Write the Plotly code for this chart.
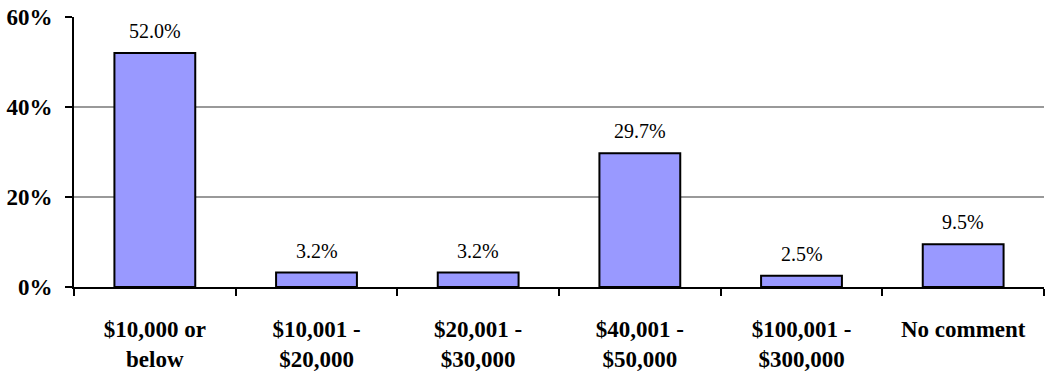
import plotly.graph_objects as go

# Income bands and share of respondents (%)
categories = ["$10,000 or<br>below", "$10,001 -<br>$20,000", "$20,001 -<br>$30,000",
              "$40,001 -<br>$50,000", "$100,001 -<br>$300,000", "No comment"]
shares = [52.0, 3.2, 3.2, 29.7, 2.5, 9.5]
y_ticks = [0, 20, 40, 60]
y_tick_labels = ["0%", "20%", "40%", "60%"]

serif = "Liberation Serif"

fig = go.Figure(go.Bar(
    x=categories,
    y=shares,
    marker=dict(color="#9999FF", line=dict(color="black", width=2)),
    hoverinfo="skip",
))

for cat, val in zip(categories, shares):
    fig.add_annotation(
        x=cat, y=val, text=f"{val:.1f}%", showarrow=False,
        yanchor="bottom", yshift=9,
        font=dict(family=serif, size=20, color="black"),
    )

fig.update_layout(
    width=1045, height=372,
    margin=dict(l=74, r=1, t=17, b=85),
    paper_bgcolor="white", plot_bgcolor="white",
    bargap=0.5,
    showlegend=False,
)

fig.update_xaxes(
    type="category",
    showline=True, linecolor="black", linewidth=2,
    ticks="outside", tickson="boundaries", ticklen=7, tickwidth=2, tickcolor="black",
    tickfont=dict(family=serif, size=23, color="black", weight="bold"),
    showgrid=False,
    ticklabelstandoff=20,
    automargin=False,
)

fig.update_yaxes(
    range=[0, 60],
    tickvals=y_ticks, ticktext=y_tick_labels,
    showline=True, linecolor="black", linewidth=2,
    ticks="outside", ticklen=7, tickwidth=2, tickcolor="black",
    tickfont=dict(family=serif, size=23, color="black", weight="bold"),
    showgrid=True, gridcolor="#999999", gridwidth=2,
    zeroline=False,
    ticklabelstandoff=8,
    automargin=False,
)

fig.write_html("out.html")
